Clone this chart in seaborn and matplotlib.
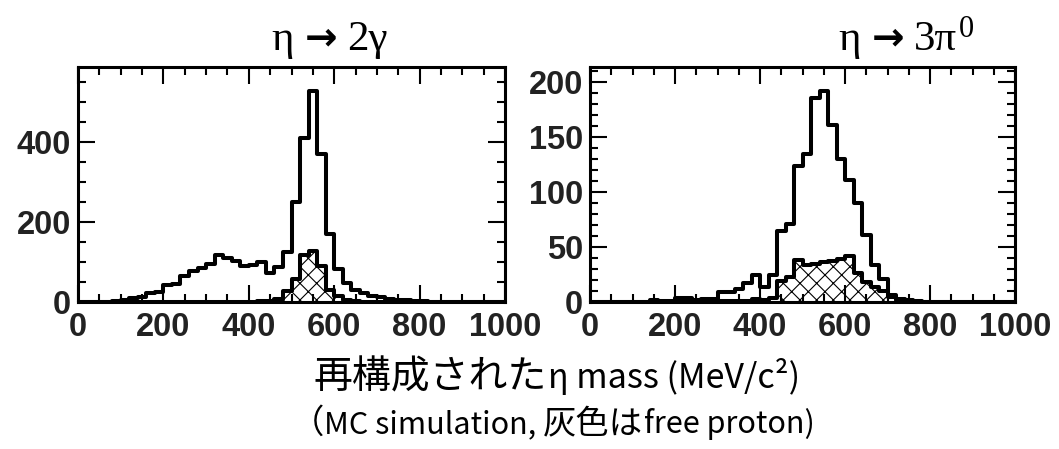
import numpy as np
import pandas as pd
import matplotlib
matplotlib.use("Agg")
import matplotlib.pyplot as plt
import seaborn as sns
from matplotlib.ticker import MultipleLocator

# 20 MeV bins over 0-1000 MeV/c^2
BIN_WIDTH = 20
MASS_RANGE = (0, 1000)
bin_centers = np.arange(MASS_RANGE[0], MASS_RANGE[1], BIN_WIDTH) + BIN_WIDTH / 2

# eta -> 2 gamma : all events and free-proton events (counts per bin)
two_gamma_all = [0, 0, 0, 0, 2, 6, 9, 13, 23, 26,
                 42, 45, 66, 78, 86, 96, 118, 110, 102, 90,
                 92, 100, 72, 88, 126, 251, 409, 528, 369, 170,
                 82, 48, 30, 22, 15, 12, 8, 6, 5, 3,
                 2, 1, 1, 0, 0, 0, 0, 0, 0, 0]
two_gamma_free = [0, 0, 0, 0, 0, 0, 0, 0, 0, 0,
                  0, 0, 0, 0, 0, 0, 0, 0, 0, 0,
                  1, 2, 3, 8, 28, 58, 118, 127, 90, 30,
                  15, 5, 2, 1, 0, 0, 0, 0, 0, 0,
                  0, 0, 0, 0, 0, 0, 0, 0, 0, 0]

# eta -> 3 pi0 : all events and free-proton events
three_pi0_all = [0, 0, 0, 0, 0, 0, 0, 2, 1, 1,
                 4, 4, 2, 3, 3, 9, 9, 12, 17, 25,
                 14, 25, 65, 71, 124, 135, 186, 192, 161, 130,
                 111, 90, 61, 34, 21, 6, 3, 2, 1, 0,
                 0, 0, 0, 0, 0, 0, 0, 0, 0, 0]
three_pi0_free = [0, 0, 0, 0, 0, 0, 0, 0, 0, 0,
                  0, 0, 0, 0, 0, 1, 1, 1, 1, 3,
                  2, 4, 19, 23, 38, 34, 35, 36, 37, 39,
                  42, 26, 18, 14, 10, 5, 2, 0, 0, 0,
                  0, 0, 0, 0, 0, 0, 0, 0, 0, 0]

x_tick_values = [0, 200, 400, 600, 800, 1000]

sns.set_theme(style="ticks")
plt.rcParams["font.family"] = ["Liberation Sans", "DejaVu Sans"]
plt.rcParams["hatch.linewidth"] = 0.8
plt.rcParams["hatch.color"] = "black"

W, H = 1059, 449
fig = plt.figure(figsize=(W / 100, H / 100), dpi=100)


def frac(x0, y0, x1, y1):
    return [x0 / W, 1 - y1 / H, (x1 - x0) / W, (y1 - y0) / H]


ax_l = fig.add_axes(frac(78, 67, 505, 302))
ax_r = fig.add_axes(frac(590, 67, 1015, 302))

LW = 2.9  # histogram line width


def draw_panel(ax, all_counts, free_counts, ymax, y_minor, y_ticks):
    df = pd.DataFrame({"mass": bin_centers, "all": all_counts, "free": free_counts})
    hist_kw = dict(data=df, x="mass", binwidth=BIN_WIDTH, binrange=MASS_RANGE,
                   element="step", color="black", ax=ax)
    # hatched free-proton region
    sns.histplot(weights="free", fill=True, alpha=1, linewidth=0, **hist_kw)
    poly = ax.collections[-1]
    poly.set_facecolor("none")
    poly.set_edgecolor("black")
    poly.set_hatch("xx")
    poly.set_linewidth(0)
    # outlines
    sns.histplot(weights="free", fill=False, linewidth=LW, **hist_kw)
    sns.histplot(weights="all", fill=False, linewidth=LW, **hist_kw)

    ax.set_xlim(*MASS_RANGE)
    ax.set_ylim(0, ymax)
    ax.set_xlabel("")
    ax.set_ylabel("")
    ax.xaxis.set_minor_locator(MultipleLocator(50))
    ax.yaxis.set_minor_locator(MultipleLocator(y_minor))
    ax.set_xticks(x_tick_values)
    ax.set_xticklabels([str(v) for v in x_tick_values])
    ax.set_yticks(y_ticks)
    ax.set_yticklabels([str(v) for v in y_ticks])
    ax.tick_params(which="both", direction="in", top=True, right=True,
                   color="black", width=1.5)
    ax.tick_params(which="major", length=12.5)
    ax.tick_params(which="minor", length=6)
    ax.tick_params(axis="x", which="major", pad=7, labelsize=23.5)
    ax.tick_params(axis="y", which="major", pad=5, labelsize=23.5)
    for lab in ax.get_xticklabels() + ax.get_yticklabels():
        lab.set_fontweight("bold")
        lab.set_color("#222222")
    for sp in ax.spines.values():
        sp.set_linewidth(2.2)
        sp.set_color("black")
        sp.set_visible(True)
    ax.set_facecolor("white")


draw_panel(ax_l, two_gamma_all, two_gamma_free, 587, 50, [0, 200, 400])
draw_panel(ax_r, three_pi0_all, three_pi0_free, 214, 10, [0, 50, 100, 150, 200])

renderer = fig.canvas.get_renderer()


def text_row(pieces, y, x_start=None, x_center=None):
    """Lay out text pieces (string, gap_before_px, rise_px, kwargs) side by side."""
    objs = []
    for s, gap, rise, kw in pieces:
        t = fig.text(0, 1 - (y - rise) / H, s, va="baseline", **kw)
        objs.append((t, gap))
    widths = [t.get_window_extent(renderer).width for t, _ in objs]
    total = sum(widths) + sum(g for _, g in objs)
    x = x_start if x_start is not None else x_center - total / 2
    for (t, gap), w in zip(objs, widths):
        x += gap
        t.set_x(x / W)
        x += w


serif_family = ["Liberation Serif", "DejaVu Serif"]
serif = dict(family=serif_family, fontsize=31, color="black")
sup = dict(family=serif_family, fontsize=22, color="black")
arrow = dict(family=["DejaVu Sans"], fontweight="bold", fontsize=28, color="black")

# panel titles
text_row([("η", 0, 0, serif), ("→", 11, 1, arrow), ("2γ", 10, 0, serif)], 50, x_start=271)
text_row([("η", 0, 0, serif), ("→", 11, 1, arrow), ("3π", 10, 0, serif), ("0", 2, 13, sup)],
         50, x_start=838)

cjk_big = dict(family=["Noto Sans CJK JP", "DejaVu Sans"], fontsize=28, color="black")
lat_big = dict(family=["Noto Sans CJK JP", "DejaVu Sans"], fontsize=24.5, color="black")
cjk_small = dict(family=["Noto Sans CJK JP", "DejaVu Sans"], fontsize=24, color="black")
lat_small = dict(family=["Noto Sans CJK JP", "DejaVu Sans"], fontsize=22, color="black")

# axis title and caption shared by both panels
text_row([("再構成された", 0, 0, cjk_big), ("η mass (MeV/c²)", 1, 0, lat_big)], 388, x_center=557)
text_row([("（", 0, 0, cjk_small), ("MC simulation,", 0, 0, lat_small), ("灰色は", 7, 0, cjk_small),
          ("free proton)", 1, 0, lat_small)], 433, x_center=553)

fig.savefig("out.png", dpi=100, facecolor="white")
